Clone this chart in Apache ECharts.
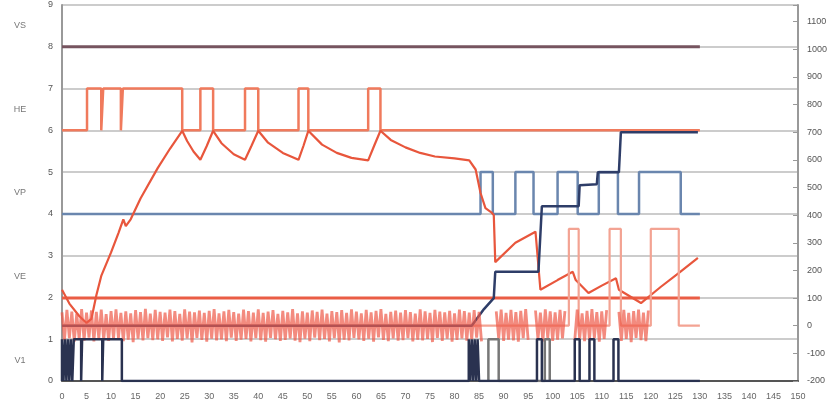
<!DOCTYPE html>
<html><head><meta charset="utf-8">
<script src="https://cdn.jsdelivr.net/npm/echarts@6/dist/echarts.min.js"></script>
<style>html,body{margin:0;padding:0;background:#fff}#c{width:840px;height:420px}</style>
</head><body><div id="c"></div>
<script>
// ---- axes ----
const xMin = 0, xMax = 150, xStep = 5;
const leftMin = 0, leftMax = 9, leftStep = 1;
const rightMin = -200, rightMax = 1160, rightStep = 100;
const bandLabels = ['V1', 'VE', 'VP', 'HE', 'VS'];
const bandLabelValues = [0.5, 2.5, 4.5, 6.5, 8.5];

// ---- left-axis (digital bands) ----
const topLine = [[0, 8], [130, 8]];
const heWave = [[0,6],[5.1,6],[5.1,7],[8.0,7],[8.0,6],[8.4,6],[8.4,7],[12.0,7],[12.0,6],[12.4,6],[12.4,7],
  [24.5,7],[24.5,6],[28.2,6],[28.2,7],[30.8,7],[30.8,6],[37.3,6],[37.3,7],[40,7],[40,6],
  [48.2,6],[48.2,7],[50.2,7],[50.2,6],[62.4,6],[62.4,7],[64.9,7],[64.9,6],[130,6]];
const blueWave = [[0,4],[85.3,4],[85.3,5],[87.8,5],[87.8,4],[92.4,4],[92.4,5],[96.1,5],[96.1,4],
  [101,4],[101,5],[105.1,5],[105.1,4],[109.4,4],[109.4,5],[113.3,5],[113.3,4],
  [117.6,4],[117.6,5],[126.1,5],[126.1,4],[130,4]];
const pulsesDark = [[0,0],[0,1],[0.3,1],[0.3,0],[0.6,0],[0.6,1],[0.9,1],[0.9,0],[1.2,0],[1.2,1],[1.5,1],[1.5,0],
  [1.8,0],[1.8,1],[2.1,1],[2.1,0],[2.4,0],[2.4,1],[3.9,1],[3.9,0],[4.1,0],[4.1,1],[8.2,1],[8.2,0],[8.4,0],[8.4,1],
  [12.2,1],[12.2,0],[82.9,0],[82.9,1],[83.2,1],[83.2,0],[83.5,0],[83.5,1],[83.8,1],[83.8,0],[84.1,0],[84.1,1],
  [84.4,1],[84.4,0],[84.7,0],[84.7,1],[85.0,1],[85.0,0],[96.8,0],[96.8,1],[97.8,1],[97.8,0],
  [104.5,0],[104.5,1],[105.5,1],[105.5,0],[107.5,0],[107.5,1],[108.5,1],[108.5,0],
  [112.4,0],[112.4,1],[113.4,1],[113.4,0],[130,0]];
const pulsesGray = [[86.9,0],[86.9,1],[89,1],[89,0],[98.4,0],[98.4,1],[99.4,1],[99.4,0]];

// ---- right-axis (analog) ----
const tempCurve = [[0,130],[1.5,80],[3.5,35],[5,10],[6,25],[7,110],[8,180],[10,265],[11.5,335],[12.5,385],[13,360],[14,385],
  [16,460],[19.5,570],[22,640],[24.5,705],[25.5,668],[26.8,630],[28.2,600],[29.5,650],[30.8,705],
  [32.5,660],[35,620],[37.3,600],[38.6,650],[40,705],[42,662],[45,625],[48.2,600],[49.2,650],[50.2,705],
  [53,655],[56,625],[59,607],[62.4,598],[63.6,650],[64.9,705],[67,672],[70,645],[73,625],[76,612],[80,605],
  [83,598],[84.3,565],[85.3,480],[86.3,425],[87.5,410],[88.0,400],[88.3,230],[92.4,300],[96.5,340],[97.5,130],
  [101,165],[104.1,195],[104.7,165],[107.3,118],[110,145],[112.9,172],[113.5,130],[118,82],[122,140],[126,195],[129.6,245]];
const setLine = [[0, 100], [130, 100]];
const pinkPulse = [[0,0],[103.3,0],[103.3,350],[105.3,350],[105.3,0],[111.6,0],[111.6,350],[113.9,350],[113.9,0],
  [120,0],[120,350],[125.7,350],[125.7,0],[130,0]];
const navyStep = [[0,0],[83.5,0],[86,60],[88,100],[88.3,195],[97.1,195],[97.8,432],[105.3,432],[105.5,508],
  [109,512],[109.2,555],[113.5,555],[113.9,700],[129.6,700]];

const noiseDt = 0.5;
const noiseMainStart = 0;
const noiseMain = [48,-52,57,-45,51,-58,44,-49,60,-54,47,-43,55,-57,50,-46,58,-51,42,-55,
  53,-48,59,-44,46,-56,52,-50,45,-59,56,-47,49,-53,61,-45,44,-52,57,-49,
  50,-55,47,-42,58,-57,53,-48,43,-54,59,-46,51,-60,48,-44,55,-51,46,-58,
  54,-47,60,-53,45,-49,52,-56,57,-43,49,-55,44,-50,58,-48,53,-57,47,-45,
  59,-52,46,-58,51,-44,56,-49,43,-55,54,-51,48,-46,60,-54,45,-59,52,-47,
  47,-56,55,-43,50,-52,58,-48,44,-57,53,-45,49,-60,56,-50,46,-53,59,-44,
  51,-49,45,-55,57,-47,48,-58,54,-42,60,-51,43,-56,50,-46,55,-54,47,-52,
  56,-45,49,-57,44,-50,59,-53,52,-48,46,-59,57,-44,51,-55,48,-47,54,-58,
  45,-51,58,-46,53,-54,47,-49,56,-43,50,-57];
const burstStarts = [88.5, 96.5, 104.5, 113.5];
const burst1 = [52,-47,58,-55,46,-50,57,-53,49,-58,54,-45,60,-51];
const burst2 = [55,-49,47,-57,59,-44,52,-55,48,-50,57,-46,53];
const burst3 = [-52,58,-47,45,-56,54,-50,60,-45,49,-58,52,-48,56];
const burst4 = [50,-55,57,-48,46,-59,53,-44,58,-52,47,-56,55];

function noiseSeg(start, vals) { return vals.map((v, i) => [start + i * noiseDt, v]); }
const noiseData = [].concat(
  noiseSeg(noiseMainStart, noiseMain), [[null, null]],
  noiseSeg(burstStarts[0], burst1), [[null, null]],
  noiseSeg(burstStarts[1], burst2), [[null, null]],
  noiseSeg(burstStarts[2], burst3), [[null, null]],
  noiseSeg(burstStarts[3], burst4));

const FONT = 'Liberation Sans';
function line(data, color, width, yIdx, extra) {
  return Object.assign({ type: 'line', data, yAxisIndex: yIdx, showSymbol: false, symbol: 'none',
    silent: true, animation: false, connectNulls: false,
    lineStyle: { color, width } }, extra || {});
}

const chart = echarts.init(document.getElementById('c'), null, { renderer: 'canvas' });
chart.setOption({
  animation: false,
  backgroundColor: '#ffffff',
  grid: { left: 62, right: 42, top: 5, bottom: 39 },
  xAxis: { type: 'value', min: xMin, max: xMax, interval: xStep,
    axisLine: { lineStyle: { color: '#555', width: 2 } }, axisTick: { show: false },
    splitLine: { show: false },
    axisLabel: { fontSize: 9, color: '#666', margin: 11, fontFamily: FONT } },
  yAxis: [
    { type: 'value', min: leftMin, max: leftMax, interval: leftStep, position: 'left',
      axisLine: { show: true, lineStyle: { color: '#999', width: 2 } }, axisTick: { show: false },
      splitLine: { lineStyle: { color: '#cccccc', width: 2 } },
      axisLabel: { fontSize: 9, color: '#555', margin: 9, fontFamily: FONT } },
    { type: 'value', min: rightMin, max: rightMax, interval: rightStep, position: 'right',
      axisLine: { show: true, lineStyle: { color: '#999', width: 2 } },
      axisTick: { show: true, inside: true, length: 5, lineStyle: { color: '#999' } },
      splitLine: { show: false },
      axisLabel: { fontSize: 9, color: '#555', margin: 9, fontFamily: FONT,
        formatter: v => (v % 100 === 0 ? String(v) : '') } }
  ],
  series: [
    line(topLine, '#76545f', 3, 0),
    line(heWave, '#f07a5c', 2.5, 0),
    line(blueWave, '#6a86ae', 2.5, 0),
    line(setLine, '#ea5d45', 3, 1),
    line(tempCurve, '#e8563c', 2.2, 1),
    line(pinkPulse, '#f3a393', 2.2, 1),
    line(navyStep, '#2e3d68', 2.5, 1),
    line(noiseData, '#ee5a48', 2.8, 1, { lineStyle: { color: '#ee5a48', width: 2.8, opacity: 0.7 } }),
    line(pulsesGray, '#777777', 2.5, 0),
    line(pulsesDark, '#2a3250', 2.5, 0)
  ]
});

// band names on the far left, positioned through the left axis scale
const gx = chart.convertToPixel({ xAxisIndex: 0 }, 0);
chart.setOption({
  graphic: bandLabels.map((t, i) => ({
    type: 'text', silent: true,
    x: gx - 42, y: chart.convertToPixel({ yAxisIndex: 0 }, bandLabelValues[i]),
    style: { text: t, fontSize: 9, fill: '#777', fontFamily: FONT, align: 'center', verticalAlign: 'middle' }
  }))
});
</script>
</body></html>
